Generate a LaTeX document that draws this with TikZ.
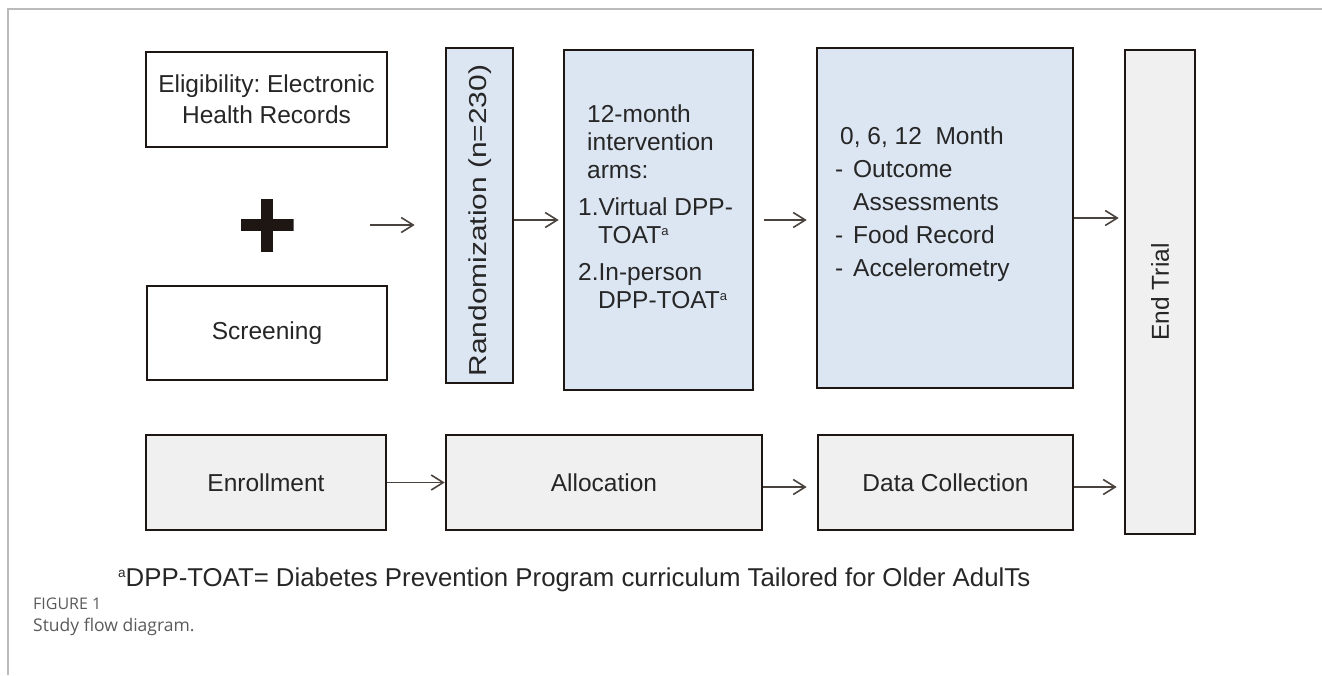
\documentclass[tikz,border=0pt]{standalone}
\usepackage{fontspec}
\setmainfont{Liberation Sans}
\newfontfamily\capfont{Open Sans}
\usetikzlibrary{arrows.meta}
\definecolor{boxblue}{HTML}{DCE6F2}
\definecolor{boxgray}{HTML}{F0F0F0}
\definecolor{edgecol}{HTML}{1E1612}
\definecolor{txtcol}{HTML}{262626}
\definecolor{arrcol}{HTML}{4A423C}
\definecolor{framecol}{HTML}{BBBBBB}
\definecolor{capgray}{HTML}{5A5A5A}
\newcommand\supa{\raisebox{8pt}{\fontsize{13}{13}\selectfont a}}
\newcommand\dashitem{-\hspace{9.8pt}}
\frenchspacing
\begin{document}
\begin{tikzpicture}[x=1pt,y=-1pt,
  box/.style={draw=edgecol, line width=2.6pt, inner sep=0pt, text=txtcol,
    font=\fontsize{24.5}{31}\selectfont, align=center},
  wbox/.style={box, fill=white},
  bbox/.style={box, fill=boxblue},
  gbox/.style={box, fill=boxgray},
  lbl/.style={text=txtcol, inner sep=0pt},
  conn/.style={draw=arrcol, line width=1.6pt, -{Straight Barb[length=12pt,width=15pt]}},
]
\useasboundingbox (0,0) rectangle (1322,675);
\draw[framecol, line width=1.5pt] (8,675) -- (8,9) -- (1322,9);

% top-left boxes
\node[wbox, minimum width=241pt, minimum height=95pt] (elig) at (266.5,99.5)
  {Eligibility: Electronic\\Health Records};
\node[wbox, minimum width=240pt, minimum height=94pt] (screen) at (267,333) {Screening};
\node[minimum size=53pt, inner sep=0pt,
  path picture={\fill[edgecol] ([xshift=-26.5pt,yshift=-6pt]path picture bounding box.center)
      rectangle ([xshift=26.5pt,yshift=6pt]path picture bounding box.center);
    \fill[edgecol] ([xshift=-6pt,yshift=-26.5pt]path picture bounding box.center)
      rectangle ([xshift=6pt,yshift=26.5pt]path picture bounding box.center);}] (plus) at (267,225) {};

% blue boxes
\node[bbox, minimum width=67pt, minimum height=335pt] (rand) at (479.5,215.5) {};
\node[lbl, rotate=90, font=\fontsize{24.5}{30}\selectfont] (randtxt) at (480,220.5)
  {\scalebox{1.22}[1]{Randomization (n=230)}};
\node[bbox, minimum width=189pt, minimum height=340pt] (arms) at (658.5,220) {};
\node[lbl, anchor=north west, align=left, font=\fontsize{24.5}{28}\selectfont] (armstxt) at (578,104.5)
  {\hspace*{9pt}12-month\\ \hspace*{9pt}intervention\\ \hspace*{9pt}arms:\\[9pt]
   1.Virtual DPP-\\ \hspace*{20pt}TOAT\supa\\[9pt]
   2.In-person\\ \hspace*{20pt}DPP-TOAT\supa};
\node[bbox, minimum width=256pt, minimum height=340pt] (assess) at (945,218) {};
\node[lbl, anchor=north west, align=left, font=\fontsize{24.5}{33}\selectfont] (assesstxt) at (835,126.5)
  {\hspace*{5pt}0, 6, 12\ \ Month\\ \dashitem Outcome\\ \hspace*{18pt}Assessments\\
   \dashitem Food Record\\ \dashitem Accelerometry};

% end trial
\node[gbox, minimum width=70pt, minimum height=484pt] (endtrial) at (1160,292) {};
\node[lbl, rotate=90, font=\fontsize{24.5}{30}\selectfont] (endtxt) at (endtrial) {End Trial};

% bottom row
\node[gbox, minimum width=240pt, minimum height=95pt] (enrol) at (266,482.5) {Enrollment};
\node[gbox, minimum width=316pt, minimum height=95pt] (alloc) at (604,482.5) {Allocation};
\node[gbox, minimum width=255pt, minimum height=95pt] (data) at (945.5,482.5) {Data Collection};

% connectors
\draw[conn, shorten <=76.5pt, shorten >=30pt] (plus.east) -- (plus.east -| rand.west);
\draw[conn, shorten >=4pt] (rand.east |- arms.west) -- (arms.west);
\draw[conn, shorten <=10pt, shorten >=9pt] (arms.east) -- (arms.east -| assess.west);
\draw[conn, shorten >=5pt] (assess.east) -- (assess.east -| endtrial.west);
\draw[conn] (enrol.east) -- (alloc.west);
\draw[conn, shorten >=10pt] ([yshift=-4.5pt]alloc.east) -- ([yshift=-4.5pt]alloc.east -| data.west);
\draw[conn, shorten >=7pt] ([yshift=-4.5pt]data.east) -- ([yshift=-4.5pt]data.east -| endtrial.west);

% footnote and caption
\node[lbl, anchor=base west, font=\fontsize{25.8}{30}\selectfont] (foot) at (118,586)
  {\raisebox{8.5pt}{\fontsize{13.5}{13.5}\selectfont a}DPP-TOAT= Diabetes Prevention Program curriculum Tailored for Older AdulTs};
\node[anchor=base west, inner sep=0pt, text=capgray, font=\capfont\fontsize{16}{18}\selectfont] (figlab) at (33,609) {FIGURE 1};
\node[anchor=base west, inner sep=0pt, text=capgray, font=\capfont\fontsize{17.5}{22}\selectfont] (figcap) at (33,631) {Study flow diagram.};
\end{tikzpicture}
\end{document}
